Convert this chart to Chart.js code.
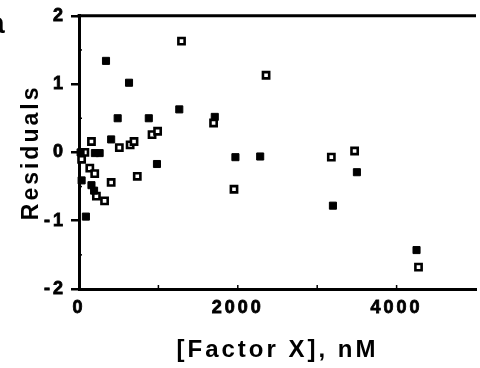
<!DOCTYPE html>
<html>
<head>
<meta charset="utf-8">
<script src="https://cdn.jsdelivr.net/npm/chart.js@4.4.1/dist/chart.umd.min.js"></script>
<style>
html,body{margin:0;padding:0;overflow:hidden;background:#fff;width:480px;height:368px;}
#wrap{width:484px;height:368px;position:relative;}
</style>
</head>
<body>
<div id="wrap"><canvas id="c"></canvas></div>
<script>
// Filled squares: [Factor X] (nM), residual
const filledX = [20, 200, 260, 33, 157, 190, 87, 340, 405, 487, 630, 879, 982, 1263, 1710, 1970, 2282, 3198, 3500, 4251];
const filledY = [0.0, -0.01, -0.01, -0.41, -0.48, -0.56, -0.94, 1.34, 0.19, 0.50, 1.02, 0.50, -0.17, 0.63, 0.52, -0.07, -0.06, -0.78, -0.29, -1.43];
// Open squares
const openX = [33, 74, 136, 157, 198, 219, 322, 405, 508, 644, 693, 734, 920, 990, 1291, 1695, 1952, 2356, 3178, 3471, 4276];
const openY = [-0.10, 0.0, -0.23, 0.16, -0.31, -0.64, -0.71, -0.44, 0.07, 0.11, 0.16, -0.35, 0.26, 0.31, 1.63, 0.43, -0.54, 1.13, -0.07, 0.02, -1.68];
const xTickLabels = {0: '0', 2000: '2000', 4000: '4000'};
const yTickLabels = {'-2': '-2', '-1': '-1', '0': '0', '1': '1', '2': '2'};
const xTitle = '[Factor X], nM';
const yTitle = 'Residuals';
const panelLabel = 'a';

const toPts = (xs, ys) => xs.map((x, i) => ({x: x, y: ys[i]}));
const FONT = 'Liberation Sans, Arial, Helvetica, sans-serif';

const spacing = {
  id: 'spacing',
  beforeUpdate(c) { c.ctx.letterSpacing = '3px'; },
  beforeDraw(c) { c.ctx.letterSpacing = '3px'; }
};

const extras = {
  id: 'extras',
  afterDraw(c) {
    const ctx = c.ctx, a = c.chartArea, xs = c.scales.x, ys = c.scales.y;
    ctx.save();
    ctx.strokeStyle = '#000';
    // top frame line
    ctx.lineWidth = 3;
    ctx.beginPath();
    ctx.moveTo(a.left - 1.5, a.top);
    ctx.lineTo(a.right, a.top);
    ctx.stroke();
    // minor inner ticks
    ctx.lineWidth = 1.5;
    for (let v = -1.5; v <= 1.5; v += 1) {
      const py = ys.getPixelForValue(v);
      ctx.beginPath(); ctx.moveTo(a.left, py); ctx.lineTo(a.left + 3, py); ctx.stroke();
    }
    for (let v = 1000; v <= 4000; v += 1000) {
      const px = xs.getPixelForValue(v);
      ctx.beginPath(); ctx.moveTo(px, a.bottom); ctx.lineTo(px, a.bottom - 4); ctx.stroke();
    }
    // panel label (mostly cut off at the left edge)
    ctx.fillStyle = '#000';
    ctx.font = 'bold 30px ' + FONT;
    ctx.letterSpacing = '0px';
    ctx.textBaseline = 'alphabetic';
    ctx.fillText(panelLabel, -12, 33);
    ctx.restore();
  }
};

new Chart(document.getElementById('c'), {
  type: 'scatter',
  data: {
    datasets: [
      {
        label: 'filled',
        data: toPts(filledX, filledY),
        pointStyle: 'rect',
        pointRadius: 5,
        borderWidth: 1,
        backgroundColor: '#000',
        borderColor: '#000',
        clip: false
      },
      {
        label: 'open',
        data: toPts(openX, openY),
        pointStyle: 'rect',
        pointRadius: 4.4,
        borderWidth: 2.6,
        backgroundColor: '#fff',
        borderColor: '#000',
        clip: false
      }
    ]
  },
  options: {
    responsive: true,
    maintainAspectRatio: false,
    animation: false,
    events: [],
    layout: {padding: {left: 0, top: 13, right: 1, bottom: 0}},
    plugins: {legend: {display: false}, tooltip: {enabled: false}},
    scales: {
      x: {
        type: 'linear',
        min: 0, max: 5000,
        afterFit: s => { s.height = 79; },
        border: {display: true, color: '#000', width: 3},
        grid: {display: true, drawOnChartArea: false, drawTicks: false, color: 'rgba(0,0,0,0)'},
        ticks: {
          stepSize: 1000,
          autoSkip: false,
          maxRotation: 0,
          padding: 8,
          color: '#000',
          textStrokeColor: '#000',
          textStrokeWidth: 0.8,
          font: {family: FONT, size: 18, weight: 'bold'},
          callback: v => (xTickLabels[v] !== undefined ? xTickLabels[v] : '')
        },
        title: {
          display: true,
          text: xTitle,
          color: '#000',
          font: {family: FONT, size: 24, weight: 'bold'},
          padding: {top: 0, bottom: 3}
        }
      },
      y: {
        type: 'linear',
        min: -2, max: 2,
        afterFit: s => { s.width = 79; },
        border: {display: true, color: '#000', width: 3},
        grid: {display: true, drawOnChartArea: false, drawTicks: true, tickLength: 8, color: '#000', lineWidth: 2.5},
        ticks: {
          stepSize: 1,
          padding: 5,
          color: '#000',
          textStrokeColor: '#000',
          textStrokeWidth: 0.8,
          font: {family: FONT, size: 18, weight: 'bold'},
          callback: v => (yTickLabels[String(v)] !== undefined ? yTickLabels[String(v)] : '')
        },
        title: {
          display: true,
          text: yTitle,
          color: '#000',
          font: {family: FONT, size: 23, weight: 'bold'},
          padding: {top: 18, bottom: 0}
        }
      }
    }
  },
  plugins: [spacing, extras]
});
</script>
</body>
</html>
